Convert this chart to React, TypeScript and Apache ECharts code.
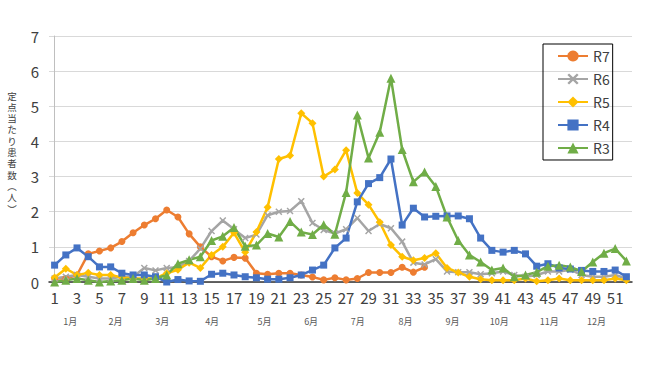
import React, { useEffect, useRef } from "react";
import * as echarts from "echarts";

const weeks: string[] = Array.from({ length: 52 }, (_, i) => String(i + 1));

const r7: number[] = [0.1,0.1,0.2,0.8,0.88,0.97,1.15,1.4,1.62,1.8,2.05,1.85,1.37,1.0,0.72,0.6,0.7,0.68,0.25,0.22,0.25,0.25,0.2,0.14,0.06,0.12,0.06,0.1,0.27,0.27,0.27,0.42,0.28,0.42];
const r6: number[] = [0.1,0.15,0.2,0.15,0.1,0.1,0.15,0.15,0.4,0.33,0.4,0.42,0.6,0.95,1.45,1.75,1.5,1.25,1.35,1.9,2.0,2.02,2.3,1.68,1.48,1.38,1.5,1.82,1.45,1.65,1.53,1.15,0.55,0.5,0.65,0.3,0.28,0.28,0.22,0.25,0.3,0.2,0.15,0.2,0.3,0.3,0.35,0.2,0.15,0.15,0.2,0.1];
const r5: number[] = [0.13,0.38,0.2,0.26,0.2,0.2,0.13,0.1,0.1,0.1,0.25,0.35,0.55,0.4,0.77,1.0,1.4,0.85,1.42,2.13,3.5,3.6,4.8,4.52,3.0,3.2,3.75,2.53,2.2,1.7,1.05,0.72,0.62,0.68,0.82,0.4,0.27,0.15,0.08,0.05,0.05,0.05,0.1,0.02,0.05,0.1,0.05,0.05,0.05,0.05,0.1,0.05];
const r4: number[] = [0.48,0.77,0.97,0.72,0.43,0.43,0.25,0.2,0.2,0.15,0.0,0.07,0.03,0.02,0.22,0.25,0.2,0.15,0.12,0.08,0.08,0.12,0.2,0.34,0.48,0.97,1.25,2.28,2.8,2.97,3.5,1.62,2.1,1.85,1.87,1.88,1.88,1.8,1.25,0.9,0.85,0.9,0.8,0.45,0.52,0.4,0.37,0.33,0.3,0.3,0.34,0.15];
const r3: number[] = [0.0,0.05,0.1,0.05,0.0,0.03,0.05,0.1,0.05,0.1,0.2,0.52,0.63,0.72,1.18,1.3,1.55,1.02,1.05,1.38,1.28,1.72,1.42,1.35,1.63,1.36,2.55,4.75,3.53,4.26,5.8,3.77,2.85,3.13,2.72,1.85,1.18,0.77,0.57,0.34,0.4,0.15,0.2,0.28,0.45,0.48,0.43,0.3,0.57,0.82,0.95,0.6];

const monthNames: string[] = ["1月","2月","3月","4月","5月","6月","7月","8月","9月","10月","11月","12月"];
// position of each month label, in week-index units (0 = week 1)
const monthPos: number[] = [1.4,5.44,9.6,14.05,18.72,22.88,27.03,31.29,35.5,39.66,44.12,48.33];

const yNameChars: string[] = ["定","点","当","た","り","患","者","数","︵","人","︶"];

const FONT = "Noto Sans CJK JP";
const NAME_FONT = "'Liberation Sans', 'Noto Sans CJK JP', sans-serif";

export default function App() {
  const ref = useRef<HTMLDivElement>(null);
  useEffect(() => {
    if (!ref.current) return;
    const chart = echarts.init(ref.current, null, { renderer: "svg" });
    const xMark = "path://M0,1.5 L1.5,0 L5,3.5 L8.5,0 L10,1.5 L6.5,5 L10,8.5 L8.5,10 L5,6.5 L1.5,10 L0,8.5 L3.5,5 Z";
    const mk = (name: string, data: number[], color: string, symbol: string, size: number) => ({
      name,
      type: "line",
      data,
      symbol,
      symbolSize: size,
      showAllSymbol: true,
      lineStyle: { color, width: 2.5 },
      itemStyle: { color, borderColor: color, borderWidth: 0 },
      emphasis: { disabled: true },
    });
    chart.setOption({
      animation: false,
      textStyle: { fontFamily: FONT },
      grid: { left: 49, right: 18, top: 36, bottom: 83 },
      legend: {
        orient: "vertical",
        left: 543,
        top: 44,
        itemWidth: 30,
        itemHeight: 14,
        itemGap: 9,
        padding: [5, 3, 5, 14],
        borderColor: "#000",
        borderWidth: 1,
        textStyle: { fontFamily: FONT, fontSize: 14, color: "#404040" },
        data: ["R7", "R6", "R5", "R4", "R3"],
      },
      xAxis: [
        {
          type: "category",
          data: weeks,
          boundaryGap: true,
          axisLine: { show: true, lineStyle: { color: "#333", width: 1.5 } },
          axisTick: { show: false },
          axisLabel: { interval: 1, fontSize: 15, color: "#404040", margin: 8, fontFamily: FONT },
          splitLine: { show: false },
        },
        {
          type: "value",
          position: "bottom",
          min: -0.5,
          max: 51.5,
          axisLine: { show: false },
          axisTick: { show: false },
          splitLine: { show: false },
          axisLabel: {
            customValues: monthPos,
            margin: 35,
            fontSize: 9,
            color: "#595959",
            fontFamily: FONT,
            formatter: (v: number) => {
              const i = monthPos.findIndex((p) => Math.abs(p - v) < 1e-6);
              return i >= 0 ? monthNames[i] : "";
            },
          },
        },
      ],
      yAxis: {
        type: "value",
        min: 0,
        max: 7,
        interval: 1,
        axisLine: { show: true, lineStyle: { color: "#bfbfbf", width: 1 } },
        axisTick: { show: false },
        axisLabel: { fontSize: 15, color: "#404040", margin: 10, fontFamily: FONT },
        splitLine: { lineStyle: { color: "#d9d9d9", width: 1 } },
      },
      graphic: yNameChars.map((ch, i) => ({
        type: "text",
        x: 12,
        y: 96 + i * 11.3,
        style: {
          text: ch,
          fontSize: 9.5,
          fontFamily: NAME_FONT,
          lineHeight: 10,
          fill: "#404040",
          align: "center",
          verticalAlign: "middle",
        },
      })),
      series: [
        mk("R7", r7, "#ED7D31", "circle", 7),
        mk("R6", r6, "#A5A5A5", xMark, 7),
        mk("R5", r5, "#FFC000", "diamond", 8),
        mk("R4", r4, "#4472C4", "rect", 7),
        mk("R3", r3, "#70AD47", "triangle", 9),
      ],
    });
    return () => chart.dispose();
  }, []);
  return <div ref={ref} style={{ width: 650, height: 365, position: "absolute", left: 0, top: 0 }} />;
}
